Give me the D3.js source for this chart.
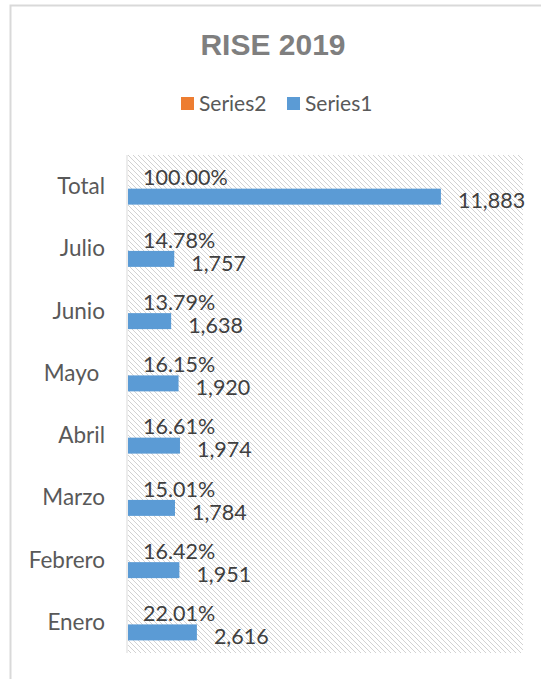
<!DOCTYPE html>
<html>
<head>
<meta charset="utf-8">
<script src="https://cdn.jsdelivr.net/npm/d3@7"></script>
<style>
  body { margin: 0; background: #fff; }
  text { white-space: pre; }
</style>
</head>
<body>
<div id="chart"></div>
<script>
// chart data
var categories = ["Total", "Julio", "Junio", "Mayo ", "Abril", "Marzo", "Febrero", "Enero"];
var series1 = [11883, 1757, 1638, 1920, 1974, 1784, 1951, 2616];
var series2 = [1.0, 0.1478, 0.1379, 0.1615, 0.1661, 0.1501, 0.1642, 0.2201];
var seriesNames = ["Series2", "Series1"];
var xTicks = [0, 15000];

var svgWidth = 541;
var svgHeight = 679;

var margin = { top: 155, right: 18, bottom: 26, left: 128 };
var width = svgWidth - margin.left - margin.right;
var height = svgHeight - margin.top - margin.bottom;

var labelFont = "Lato, 'Open Sans', sans-serif";
var colors = { Series2: "#ed7d31", Series1: "#5b9bd5" };

var svg = d3.select("#chart")
  .append("svg")
  .attr("width", svgWidth)
  .attr("height", svgHeight);

// hatch pattern for plot area
var defs = svg.append("defs");
var pat = defs.append("pattern")
  .attr("id", "hatch")
  .attr("patternUnits", "userSpaceOnUse")
  .attr("width", 5)
  .attr("height", 5);
pat.append("rect").attr("width", 5).attr("height", 5).attr("fill", "#fff");
pat.append("path")
  .attr("d", "M-1,-1 L6,6 M-1,4 L1,6 M4,-1 L6,1")
  .attr("stroke", "#d2d2d2")
  .attr("stroke-width", 1);

// chart frame
svg.append("rect")
  .attr("x", 10.5)
  .attr("y", 5.5)
  .attr("width", 700)
  .attr("height", 800)
  .attr("fill", "none")
  .attr("stroke", "#d9d9d9")
  .attr("stroke-width", 2);

// title
svg.append("text")
  .attr("x", 273)
  .attr("y", 55)
  .attr("text-anchor", "middle")
  .attr("font-family", "'Liberation Sans', Arial, sans-serif")
  .attr("font-weight", "bold")
  .attr("font-size", "30px")
  .attr("fill", "#7f7f7f")
  .text("RISE 2019");

// legend
var legend = svg.append("g");
var legendX = [181, 287];
seriesNames.forEach(function(name, i) {
  legend.append("rect")
    .attr("x", legendX[i])
    .attr("y", 97)
    .attr("width", 13)
    .attr("height", 13)
    .attr("fill", colors[name]);
  legend.append("text")
    .attr("x", legendX[i] + 18)
    .attr("y", 111)
    .attr("font-family", labelFont)
    .attr("font-size", "21px")
    .attr("fill", "#595959")
    .text(name);
});

var chartGroup = svg.append("g")
  .attr("transform", `translate(${margin.left}, ${margin.top})`);

// scales
var xLinearScale = d3.scaleLinear()
  .domain(d3.extent(xTicks))
  .range([0, width]);

var yBand = d3.scaleBand()
  .domain(categories)
  .range([0, height])
  .padding(0);

var mid = yBand.bandwidth() / 2;
var ySub = d3.scaleBand()
  .domain(seriesNames)
  .range([mid - 18.5, mid + 18.5])
  .paddingInner(0.24);

chartGroup.append("rect")
  .attr("width", width)
  .attr("height", height)
  .attr("fill", "url(#hatch)");

// category axis
var leftAxis = d3.axisLeft(yBand).tickSize(0).tickPadding(23);
var yAxisG = chartGroup.append("g")
  .call(leftAxis);
yAxisG.select(".domain")
  .attr("stroke", "#d9d9d9")
  .attr("d", `M-1,0V${height}`);
yAxisG.selectAll("text")
  .attr("font-family", labelFont)
  .attr("font-size", "22.5px")
  .attr("fill", "#595959")
  .attr("dy", "0.36em");

var rows = categories.map(function(c, i) {
  return { cat: c, Series1: series1[i], Series2: series2[i] };
});

var fmtNum = d3.format(",");
var fmtPct = d3.format(".2%");

seriesNames.forEach(function(name) {
  chartGroup.selectAll(".bar-" + name)
    .data(rows)
    .enter()
    .append("rect")
    .attr("class", "bar-" + name)
    .attr("x", 0)
    .attr("y", d => yBand(d.cat) + ySub(name))
    .attr("width", d => xLinearScale(d[name]))
    .attr("height", ySub.bandwidth())
    .attr("fill", colors[name]);

  chartGroup.selectAll(".lbl-" + name)
    .data(rows)
    .enter()
    .append("text")
    .attr("class", "lbl-" + name)
    .attr("x", d => xLinearScale(d[name]) + (name == "Series1" ? 17 : 15))
    .attr("y", d => yBand(d.cat) + ySub(name) + ySub.bandwidth() / 2)
    .attr("dy", name == "Series1" ? "0.55em" : "0.45em")
    .attr("font-family", labelFont)
    .attr("font-size", "21.5px")
    .attr("fill", "#404040")
    .text(d => name == "Series1" ? fmtNum(d[name]) : fmtPct(d[name]));
});
</script>
</body>
</html>
